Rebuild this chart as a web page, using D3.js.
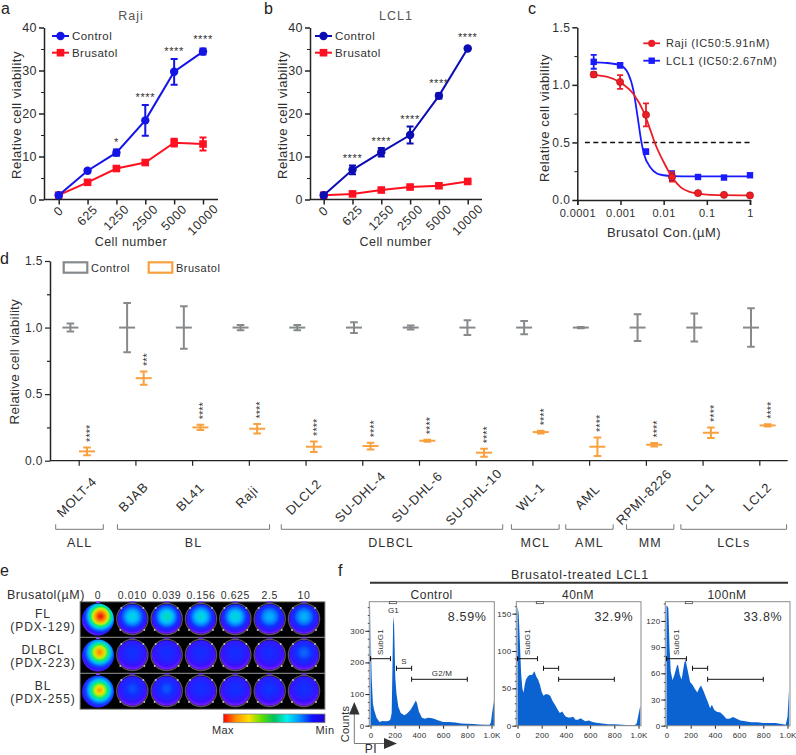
<!DOCTYPE html>
<html><head><meta charset="utf-8">
<script src="https://cdn.jsdelivr.net/npm/d3@7"></script>
<style>
html,body{margin:0;padding:0;background:#fff}
svg{display:block}
text{font-family:"Liberation Sans",Arial,sans-serif;fill:#2f2f2f}
</style></head><body><svg id="c" width="796" height="755"></svg>
<script>
// ---------- panels a, b
const cellNumbers=["0","625","1250","2500","5000","10000"];
const rajiControl=[1,6.7,10.9,18.4,29.7,34.4];
const rajiControlErr=[0.3,0.4,0.7,3.6,3,0.7];
const rajiBrusatol=[1,4,7.2,8.6,13.2,12.9];
const rajiBrusatolErr=[0.2,0.3,0.5,0.5,0.9,1.5];
const rajiStars=["","","*","****","****","****"];
const rajiStarY=[null,null,12.5,23,33.8,36.5];
const lclControl=[1,6.9,11,15,24.1,35.1];
const lclControlErr=[0.3,1,1,2,0.6,0.3];
const lclBrusatol=[1,1.3,2.2,2.9,3.2,4.2];
const lclBrusatolErr=[0.1,0.2,0.2,0.2,0.4,0.2];
const lclStars=["","****","****","****","****","****"];
const lclStarY=[null,8.8,12.8,18,26.2,37];
// ---------- panel c
const concs=[0.00024,0.00098,0.0039,0.0156,0.0625,0.25,1];
const rajiDose=[1.09,1.025,0.74,0.2,0.06,0.045,0.04];
const rajiDoseErr=[0.02,0.06,0.1,0.04,0.012,0.01,0.012];
const lclDose=[1.2,1.17,0.42,0.21,0.2,0.195,0.215];
const lclDoseErr=[0.06,0.02,0.02,0.04,0.012,0.012,0.012];
const rajiFitX=[0.00024,0.0005,0.001,0.002,0.0035,0.005,0.0065,0.01,0.0156,0.025,0.04,0.0625,0.1,0.25,1];
const rajiFitY=[1.085,1.07,1.02,0.92,0.76,0.6,0.48,0.33,0.2,0.11,0.07,0.055,0.047,0.042,0.04];
const lclFitX=[0.00024,0.0005,0.001,0.0015,0.002,0.0025,0.003,0.0035,0.005,0.007,0.01,0.0156,0.05,1];
const lclFitY=[1.195,1.19,1.17,1.1,0.95,0.72,0.52,0.4,0.28,0.23,0.215,0.208,0.205,0.205];
// ---------- panel d
const cellLines=["MOLT-4","BJAB","BL41","Raji","DLCL2","SU-DHL-4","SU-DHL-6","SU-DHL-10","WL-1","AML","RPMI-8226","LCL1","LCL2"];
const controlErr=[0.03,0.185,0.16,0.02,0.02,0.04,0.015,0.055,0.05,0.005,0.1,0.105,0.145];
const brusatolMean=[0.07,0.62,0.25,0.24,0.105,0.11,0.15,0.06,0.215,0.105,0.12,0.21,0.265];
const brusatolErr=[0.03,0.05,0.02,0.035,0.04,0.025,0.008,0.03,0.01,0.07,0.013,0.04,0.008];
const cellStars=["****","***","****","****","****","****","****","****","****","****","****","****","****"];
const groupNames=["ALL","BL","DLBCL","MCL","AML","MM","LCLs"];
// ---------- panel e
const doses=["0","0.010","0.039","0.156","0.625","2.5","10"];
const pdxNames=[["FL","(PDX-129)"],["DLBCL","(PDX-223)"],["BL","(PDX-255)"]];
const wellRow1=[1.0,0.53,0.56,0.54,0.54,0.47,0.47];
const wellRow2=[0.88,0.3,0.28,0.28,0.28,0.27,0.37];
const wellRow3=[0.84,0.34,0.35,0.29,0.29,0.31,0.29];
// ---------- panel f
const ctlPI=[0,5,10,20,30,50,75,100,125,150,165,175,180,188,195,205,215,230,250,280,300,330,350,375,385,400,425,450,475,500,525,550,600,650,700,750,800,850,900,950,985,995,1005,1020];
const ctlCounts=[390,230,150,70,50,25,12,15,14,15,20,40,150,345,320,150,100,60,40,33,38,50,62,80,70,45,25,22,25,24,22,18,12,12,10,7,6,5,4,3,3,10,40,78];
const nm40PI=[0,10,20,30,40,50,60,70,85,100,120,140,155,170,185,200,215,230,250,270,290,310,330,350,370,385,400,420,440,460,480,500,520,540,560,590,620,650,700,750,800,900,970,985,1000,1015];
const nm40Counts=[160,150,110,70,50,44,55,62,66,68,68,73,66,62,55,45,40,42,42,40,33,28,22,17,19,15,12,11,11,12,8,8,10,8,6,7,5,4,3,2,2,1,1,3,15,27];
const nm100PI=[0,15,25,35,50,65,85,95,110,125,145,155,165,180,195,215,235,255,270,285,305,325,345,360,375,395,415,445,470,495,520,550,580,610,650,700,750,800,850,900,950,985,1000,1012];
const nm100Counts=[138,135,90,62,52,58,68,70,58,53,70,76,70,60,50,47,42,38,43,46,40,33,26,20,24,18,16,15,12,8,8,10,8,6,5,4,4,3,3,3,2,1,10,40];

const svg=d3.select("#c");
const FS=0.45;
function txt(g,x,y,s,size,anchor,opt={}){
  const t=g.append("text").attr("x",x).attr("y",y).attr("font-size",size).attr("text-anchor",anchor||"start")
   .attr("dominant-baseline","central").attr("letter-spacing",opt.ls==null?FS:opt.ls).text(s);
  if(opt.rot!=null)t.attr("transform",`rotate(${opt.rot},${x},${y})`);
  if(opt.fill)t.style("fill",opt.fill);
  if(opt.w)t.attr("font-weight",opt.w);
  return t;
}
function styleAxis(g,w){
  g.selectAll("path.domain").attr("stroke","#222").attr("stroke-width",w||1.5);
  g.selectAll("line").attr("stroke","#222").attr("stroke-width",w||1.5);
  g.selectAll("text").attr("letter-spacing",FS).style("fill","#2f2f2f");
}
[["a",1,8.5],["b",264,8.5],["c",528,8.5],["d",0,258],["e",0,570],["f",338,570]].forEach(([s,x,y])=>txt(svg,x,y,s,16,"start",{ls:0,fill:"#222"}));

function yAxis(g,y,x0,ticks,minor,fmt,size){
  const maj=g.append("g").attr("transform",`translate(${x0},0)`).call(d3.axisLeft(y).tickValues(ticks).tickSize(5).tickSizeOuter(0).tickPadding(2).tickFormat(fmt));
  maj.selectAll("text").attr("font-size",size||12.5);
  styleAxis(maj);
  const mi=g.append("g").attr("transform",`translate(${x0},0)`).call(d3.axisLeft(y).tickValues(minor).tickSize(3).tickFormat(""));
  mi.select(".domain").remove(); styleAxis(mi,1);
}
function marker(g,shape,x,y,col,sz){
  if(shape=="c")g.append("circle").attr("cx",x).attr("cy",y).attr("r",sz||4.2).attr("fill",col);
  else g.append("rect").attr("x",x-(sz||3.8)).attr("y",y-(sz||3.8)).attr("width",2*(sz||3.8)).attr("height",2*(sz||3.8)).attr("fill",col);
}
function errBar(g,x,yT,yB,col,cap,w){
  g.append("path").attr("d",`M${x-cap},${yT}H${x+cap}M${x},${yT}V${yB}M${x-cap},${yB}H${x+cap}`).attr("fill","none").attr("stroke",col).attr("stroke-width",w||2);
}
function growth(title,titleX,xr,x0,xEnd,legX,ctl,ctlE,bru,bruE,stars,starY,blue){
  const g=svg.append("g");
  const x=d3.scalePoint().domain(cellNumbers).range(xr);
  const y=d3.scaleLinear().domain([0,40]).range([199.5,27.5]);
  txt(g,titleX,16,title,12.5,"middle",{ls:1,fill:"#555"});
  const xa=g.append("g").attr("transform","translate(0,199.5)").call(d3.axisBottom(x).tickSize(5).tickSizeOuter(0));
  xa.select(".domain").remove(); styleAxis(xa);
  xa.selectAll("text").remove();
  g.append("line").attr("x1",x0).attr("x2",xEnd).attr("y1",199.5).attr("y2",199.5).attr("stroke","#222").attr("stroke-width",1.5);
  cellNumbers.forEach(c=>txt(g,x(c),209+c.length*2.2,c,12.5,"middle",{rot:-45,ls:.6}));
  yAxis(g,y,x0,[0,10,20,30,40],[5,15,25,35],d3.format("d"));
  txt(g,x0-28,115,"Relative cell viability",13,"middle",{rot:-90,ls:.5});
  const line=d3.line().x((d,i)=>x(cellNumbers[i])).y(d=>y(d));
  [[bru,bruE,"#ff1020","s"],[ctl,ctlE,blue,"c"]].forEach(([v,e,col,sh])=>{
    g.append("path").attr("d",line(v)).attr("fill","none").attr("stroke",col).attr("stroke-width",2);
    v.forEach((d,i)=>{errBar(g,x(cellNumbers[i]),y(d+e[i]),y(d-e[i]),col,3.5,2);marker(g,sh,x(cellNumbers[i]),y(d),col);});
  });
  stars.forEach((s,i)=>{if(s)txt(g,x(cellNumbers[i]),y(starY[i])-3.5,s,11,"middle",{ls:.6});});
  txt(g,(xr[0]+xr[1])/2,242,"Cell number",12.5,"middle");
  [[ "Control",36,blue,"c"],["Brusatol",52.7,"#ff1020","s"]].forEach(([s,ly,col,sh])=>{
    g.append("line").attr("x1",legX).attr("x2",legX+17).attr("y1",ly).attr("y2",ly).attr("stroke",col).attr("stroke-width",2);
    marker(g,sh,legX+8.5,ly,col);
    txt(g,legX+20,ly,s,11.5,"start");
  });
}
growth("Raji",131,[58.7,203],44,218,52,rajiControl,rajiControlErr,rajiBrusatol,rajiBrusatolErr,rajiStars,rajiStarY,"#1414e6");
growth("LCL1",396,[323.7,467.7],310,482,315,lclControl,lclControlErr,lclBrusatol,lclBrusatolErr,lclStars,lclStarY,"#0c0cb4");

// panel c
(function(){
  const g=svg.append("g");
  const x=d3.scaleLog().domain([0.0001,1]).range([577.3,750]);
  const y=d3.scaleLinear().domain([0,1.5]).range([200,27.3]);
  const xa=g.append("g").attr("transform","translate(0,200)").call(d3.axisBottom(x).tickValues([0.0001,0.001,0.01,0.1,1]).tickSize(5).tickFormat(d=>String(d)).tickPadding(4));
  styleAxis(xa); xa.selectAll("text").attr("font-size",11);
  yAxis(g,y,577.3,[0,0.5,1,1.5],[0.25,0.75,1.25],d3.format(".1f"),12);
  txt(g,544,118,"Relative cell viability",13,"middle",{rot:-90,ls:.5});
  txt(g,664,232,"Brusatol Con.(µM)",13,"middle",{ls:.5});
  g.append("line").attr("x1",x(0.00015)).attr("x2",x(1)).attr("y1",y(.5)).attr("y2",y(.5)).attr("stroke","#111").attr("stroke-width",1.6).attr("stroke-dasharray","5,3.4");
  const line=d3.line().curve(d3.curveMonotoneX).x(d=>x(d[0])).y(d=>y(d[1]));
  [[lclFitX,lclFitY,lclDose,lclDoseErr,"#1a1aff","s"],[rajiFitX,rajiFitY,rajiDose,rajiDoseErr,"#ee1c25","c"]].forEach(([fx,fy,v,e,col,sh])=>{
    g.append("path").attr("d",line(fx.map((d,i)=>[d,fy[i]]))).attr("fill","none").attr("stroke",col).attr("stroke-width",1.8);
    v.forEach((d,i)=>{errBar(g,x(concs[i]),y(d+e[i]),y(d-e[i]),col,3,1.8);
      if(sh=="c"){g.append("circle").attr("cx",x(concs[i])).attr("cy",y(d)).attr("r",3.6).attr("fill",col).attr("stroke","#a01010").attr("stroke-width",.6);}
      else marker(g,sh,x(concs[i]),y(d),col,3.2);});
  });
  [["Raji (IC50:5.91nM)",43.3,"#ee1c25","c"],["LCL1 (IC50:2.67nM)",60.7,"#1a1aff","s"]].forEach(([s,ly,col,sh])=>{
    g.append("line").attr("x1",643.3).attr("x2",660).attr("y1",ly).attr("y2",ly).attr("stroke",col).attr("stroke-width",1.8);
    marker(g,sh,651.7,ly,col,sh=="c"?3.6:3.2);
    txt(g,666,ly,s,11,"start",{ls:.65});
  });
})();

// panel d
(function(){
  const g=svg.append("g");
  const x=d3.scalePoint().domain(cellLines).range([78.7,759.3]);
  const y=d3.scaleLinear().domain([0,1.5]).range([460.7,261]);
  const xa=g.append("g").attr("transform","translate(0,460.7)").call(d3.axisBottom(x).tickSize(5).tickSizeOuter(0));
  xa.select(".domain").remove(); styleAxis(xa,1.3); xa.selectAll("text").remove();
  g.append("line").attr("x1",50).attr("x2",787.7).attr("y1",460.7).attr("y2",460.7).attr("stroke","#222").attr("stroke-width",1.3);
  yAxis(g,y,50,[0,.5,1,1.5],[.25,.75,1.25],d3.format(".1f"),12);
  g.selectAll(".tick line").attr("stroke-width",1.2);
  txt(g,15,361.7,"Relative cell viability",13.5,"middle",{rot:-90,ls:.2});
  const gray="#868a8c",or="#f9a03f";
  cellLines.forEach((c,i)=>{
    const cx=x(c)-8.3,bx=x(c)+8.3;
    errBar(g,cx,y(1+controlErr[i]),y(1-controlErr[i]),gray,3.8,2);
    g.append("line").attr("x1",cx-8).attr("x2",cx+8).attr("y1",y(1)).attr("y2",y(1)).attr("stroke",gray).attr("stroke-width",2);
    const m=brusatolMean[i],e=brusatolErr[i];
    errBar(g,bx,y(m+e),y(m-e),or,3.8,2);
    g.append("line").attr("x1",bx-8).attr("x2",bx+8).attr("y1",y(m)).attr("y2",y(m)).attr("stroke",or).attr("stroke-width",2);
    txt(g,bx+3,y(m+e)-5.5,cellStars[i],11,"start",{rot:-90,ls:0,fill:"#333"});
    txt(g,x(c)-2,497,c,13,"middle",{rot:-45,ls:.7});
  });
  const spanFirst=[0,1,4,8,9,10,11];
  const spanLast=[0,3,7,8,9,10,11];
  const spanOff=[[-23,24.6],[-18,20.7],[-24.3,27],[-21,26.7],[-23.4,24],[-19.4,28],[-21.7,84]];
  groupNames.forEach((n,i)=>{
    const a=x(cellLines[spanFirst[i]])+spanOff[i][0],b=x(cellLines[spanLast[i]])+spanOff[i][1];
    g.append("path").attr("d",`M${a},524.3V529.3H${b}V524.3`).attr("fill","none").attr("stroke","#777").attr("stroke-width",1);
    txt(g,n=="DLBCL"?391:(a+b)/2,542.7,n,12.5,"middle",{ls:1});
  });
  [["Control",63.7,gray],["Brusatol",148.7,or]].forEach(([s,lx,col])=>{
    g.append("rect").attr("x",lx).attr("y",262.3).attr("width",23.6).attr("height",10.4).attr("fill","none").attr("stroke",col).attr("stroke-width",2.2);
    txt(g,lx+27.3,268,s,11,"start",{ls:.5});
  });
})();

// panel e
(function(){
  const g=svg.append("g");
  const defs=svg.append("defs");
  const x=d3.scalePoint().domain(doses).range([98,304]);
  const rows=[wellRow1,wellRow2,wellRow3];
  const y=d3.scalePoint().domain([0,1,2]).range([619,691]);
  const spec=d3.scaleLinear().domain([0,.1,.3,.5,.62,.74,.87,1])
    .range(["#7a1cff","#3a10ff","#1030ff","#00c8ff","#00f070","#e8f000","#ff8a00","#ee1010"]);
  g.append("rect").attr("x",80).attr("y",601.7).attr("width",245).attr("height",107.6).attr("fill","#000").attr("stroke","#999").attr("stroke-width",1);
  [637.3,673.3].forEach(v=>g.append("line").attr("x1",80).attr("x2",325).attr("y1",v).attr("y2",v).attr("stroke","#999").attr("stroke-width",1));
  rows.forEach((row,r)=>{
    row.forEach((p,i)=>{
      const id=`w${r}_${i}`;
      const hot=i==0;
      const gr=defs.append("radialGradient").attr("id",id)
        .attr("cx",hot?(r==0?.58:.55):.5).attr("cy",hot?(r==2?.46:.4):.42).attr("r",hot?.62:.56);
      d3.range(0,1.001,.1).forEach(t=>{
        const v=hot?p*(1-Math.pow(t,1.4)):p*(1-Math.pow(t,2));
        gr.append("stop").attr("offset",t).attr("stop-color",spec(v));
      });
      const cx=x(doses[i]),cy=y(r);
      if(!hot){
        g.append("circle").attr("cx",cx).attr("cy",cy).attr("r",15.6).attr("fill","none").attr("stroke","#7c7c7c").attr("stroke-width",1.3).attr("opacity",.7);
      }
      g.append("circle").attr("cx",cx).attr("cy",cy+(hot?.5:0)).attr("r",hot?16:14.8).attr("fill",`url(#${id})`);
      if(!hot){
        [[-11,-11],[11,-11],[-12,11],[12,11]].forEach(([dx,dy])=>g.append("rect").attr("x",cx+dx-.8).attr("y",cy+dy-.8).attr("width",1.6).attr("height",1.6).attr("fill","#dcdcdc"));
        g.append("rect").attr("x",cx-3).attr("y",cy-17.6).attr("width",6).attr("height",1.2).attr("fill","#7a30ff");
      } else {
        g.append("rect").attr("x",cx-2).attr("y",cy-17.6).attr("width",4).attr("height",1.5).attr("fill","#9040ff");
      }
    });
    txt(g,43,y(r)-5.3,pdxNames[r][0],12,"middle",{ls:.9});
    txt(g,43,y(r)+7.7,pdxNames[r][1],12,"middle",{ls:1});
  });
  txt(g,7,595,"Brusatol(µM)",12.5,"start",{ls:.5});
  doses.forEach(d=>txt(g,x(d),595,d,10.5,"middle",{ls:.55}));
  const lg=defs.append("linearGradient").attr("id","cb");
  const cb=["#ff0000","#ff9000","#ffe000","#60e000","#00c060","#00f0f0","#0090ff","#1010ff","#2000d0"];
  cb.forEach((c,i)=>lg.append("stop").attr("offset",i/(cb.length-1)).attr("stop-color",c));
  g.append("rect").attr("x",223.3).attr("y",714).attr("width",101.7).attr("height",8.7).attr("fill","url(#cb)").attr("stroke","#888").attr("stroke-width",.8);
  txt(g,223,730.3,"Max",11,"middle");
  txt(g,325,730.3,"Min",11,"middle");
})();

// panel f
(function(){
  const g=svg.append("g");
  const panels=[
   {t:"Control",tx:431.7,fx:[369.3,494.3],x0:370.5,pi:ctlPI,c:ctlCounts,yT:[0,100,200,300],yM:392,yMinor:25,pct:"8.59%"},
   {t:"40nM",tx:578,fx:[516.3,641],x0:517.5,pi:nm40PI,c:nm40Counts,yT:[0,50,100,150],yM:166,yMinor:10,pct:"32.9%"},
   {t:"100nM",tx:727,fx:[665.3,790],x0:666.5,pi:nm100PI,c:nm100Counts,yT:[0,30,60,90,120],yM:142,yMinor:10,pct:"33.8%"}];
  const top=601.7,bot=725.7;
  panels.forEach((p,k)=>{
    const x=d3.scaleLinear().domain([0,1000]).range([p.x0,p.x0+121]);
    const y=d3.scaleLinear().domain([0,p.yM]).range([bot,top]);
    const area=d3.area().x(d=>x(d[0])).y0(bot).y1(d=>y(Math.min(d[1],p.yM)));
    g.append("path").attr("d",area(p.pi.map((d,i)=>[d,p.c[i]]))).attr("fill","#0b63d2");
    g.append("rect").attr("x",p.fx[0]).attr("y",top).attr("width",p.fx[1]-p.fx[0]).attr("height",bot-top).attr("fill","none").attr("stroke","#8a8a8a").attr("stroke-width",1);
    const xa=g.append("g").attr("transform",`translate(0,${bot})`).call(d3.axisBottom(x).tickValues([0,200,400,600,800,1000]).tickSize(3).tickPadding(4).tickFormat(d=>d==1000?"1.0K":d));
    xa.select(".domain").remove(); styleAxis(xa,1); xa.selectAll("text").attr("font-size",8).attr("letter-spacing",.2);
    const ya=g.append("g").attr("transform",`translate(${p.fx[0]},0)`).call(d3.axisLeft(y).tickValues(p.yT).tickSize(4).tickPadding(1).tickFormat(d3.format("d")));
    ya.select(".domain").remove(); styleAxis(ya,1); ya.selectAll("text").attr("font-size",8).attr("letter-spacing",.2);
    const ym=g.append("g").attr("transform",`translate(${p.fx[0]},0)`).call(d3.axisLeft(y).tickValues(d3.range(0,p.yM,p.yMinor)).tickSize(1.5).tickFormat(""));
    ym.select(".domain").remove(); styleAxis(ym,.8);
    txt(g,p.tx,595,p.t,12,"middle",{ls:.5});
    txt(g,p.fx[1]-7.6,616.7,p.pct,12.5,"end",{ls:.7});
    g.append("rect").attr("x",x(155)).attr("y",top).attr("width",x(215)-x(155)).attr("height",2).attr("fill","#fff").attr("stroke","#333").attr("stroke-width",.7);
    [[0,165,658.7],[215,340,668.3],[340,800,679.3]].forEach(([a,b,yy])=>{
      g.append("path").attr("d",`M${x(a)},${yy-2.5}V${yy+2.5}M${x(a)},${yy}H${x(b)}M${x(b)},${yy-2.5}V${yy+2.5}`).attr("fill","none").attr("stroke","#111").attr("stroke-width",1);
    });
    txt(g,x(80),642,"SubG1",8,"middle",{rot:-90,ls:.2});
    if(k==0){
      txt(g,x(190),610,"G1",8,"middle",{ls:.2});
      txt(g,x(278),661,"S",8,"middle",{ls:.2});
      txt(g,x(590),673,"G2/M",8,"middle",{ls:.2});
    }
  });
  txt(g,580,574.7,"Brusatol-treated LCL1",12.5,"middle",{ls:.75});
  g.append("line").attr("x1",370).attr("x2",788).attr("y1",582.7).attr("y2",582.7).attr("stroke","#333").attr("stroke-width",2);
  g.append("path").attr("d","M354.3,712V743.5H386").attr("fill","none").attr("stroke","#777").attr("stroke-width",1);
  g.append("path").attr("d","M354.3,702L349,714.5H359.6Z").attr("fill","#333");
  g.append("path").attr("d","M397,743.5L384,738V749Z").attr("fill","#333");
  txt(g,344.5,724,"Counts",11,"middle",{rot:-90,ls:.3});
  txt(g,371,749,"PI",12,"middle",{ls:.5});
})();
</script></body></html>
